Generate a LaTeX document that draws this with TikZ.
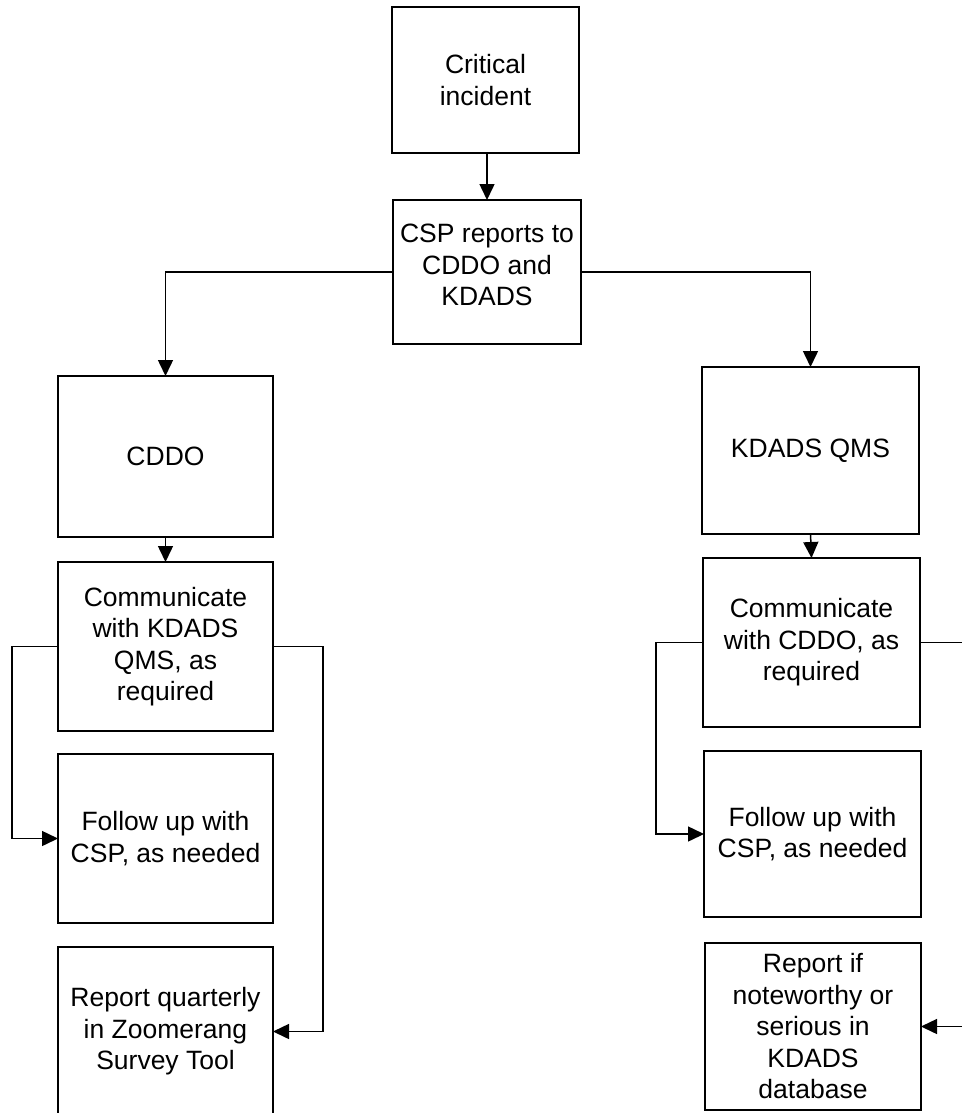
\documentclass[tikz,border=0pt]{standalone}
\usepackage{fontspec}
\setmainfont{Liberation Sans}
\usetikzlibrary{arrows.meta}

\begin{document}
\begin{tikzpicture}[x=1pt,y=-1pt,
  stepbox/.style={draw=black, line width=1.6pt, inner sep=0pt, outer sep=0pt,
    anchor=north west, align=center,
    font=\fontsize{26.5}{31.5}\selectfont},
  flow/.style={draw=black, line width=1.5pt,
    -{Triangle[length=16pt,width=15pt]}}
]
% page area
\path[use as bounding box, fill=white] (0,0) rectangle (961,1113);

% top of the chart
\node[stepbox, minimum width=187pt, minimum height=146pt] (crit) at (392,7) {Critical\\incident};
\node[stepbox, minimum width=188pt, minimum height=144pt] (csp) at (393,200) {CSP reports to\\CDDO and\\KDADS\\[-17.5pt]\mbox{}};

% left column
\node[stepbox, minimum width=215pt, minimum height=161pt] (cddo) at (58,376) {CDDO};
\node[stepbox, minimum width=215pt, minimum height=169pt] (comL) at (58,562) {Communicate\\with KDADS\\QMS, as\\required};
\node[stepbox, minimum width=215pt, minimum height=169pt] (fupL) at (58,754) {Follow up with\\CSP, as needed};
\node[stepbox, minimum width=215pt, minimum height=169pt] (repL) at (58,947) {Report quarterly\\in Zoomerang\\Survey Tool};

% right column
\node[stepbox, minimum width=217pt, minimum height=167pt] (kqms) at (702,367) {KDADS QMS};
\node[stepbox, minimum width=217pt, minimum height=169pt] (comR) at (703,558) {Communicate\\with CDDO, as\\required};
\node[stepbox, minimum width=217pt, minimum height=166pt] (fupR) at (704,751) {Follow up with\\CSP, as needed};
\node[stepbox, minimum width=216pt, minimum height=167pt] (repR) at (705,943) {Report if\\noteworthy or\\serious in\\KDADS\\database};

% connectors
\draw[flow] (crit.south) ++(1.5,0) coordinate (critdrop) -- (critdrop |- csp.north);
\draw[flow] (csp.west) -| (cddo.north);
\draw[flow] (csp.east) -| (kqms.north);
\draw[flow] (cddo.south) -- (comL.north);
\draw[flow] (kqms.south) -- (comR.north);

\coordinate (lbendL) at (12,0);
\coordinate (rbendL) at (323,0);
\coordinate (lbendR) at (656,0);
\coordinate (rbendR) at (976,0);

\draw[flow] (comL.west) -- (comL.west -| lbendL) |- (fupL.west);
\draw[flow] (comL.east) -- (comL.east -| rbendL) |- (repL.east);
\draw[flow] (comR.west) -- (comR.west -| lbendR) |- (fupR.west);
\draw[flow] (comR.east) -- (comR.east -| rbendR) |- (repR.east);
\end{tikzpicture}
\end{document}
